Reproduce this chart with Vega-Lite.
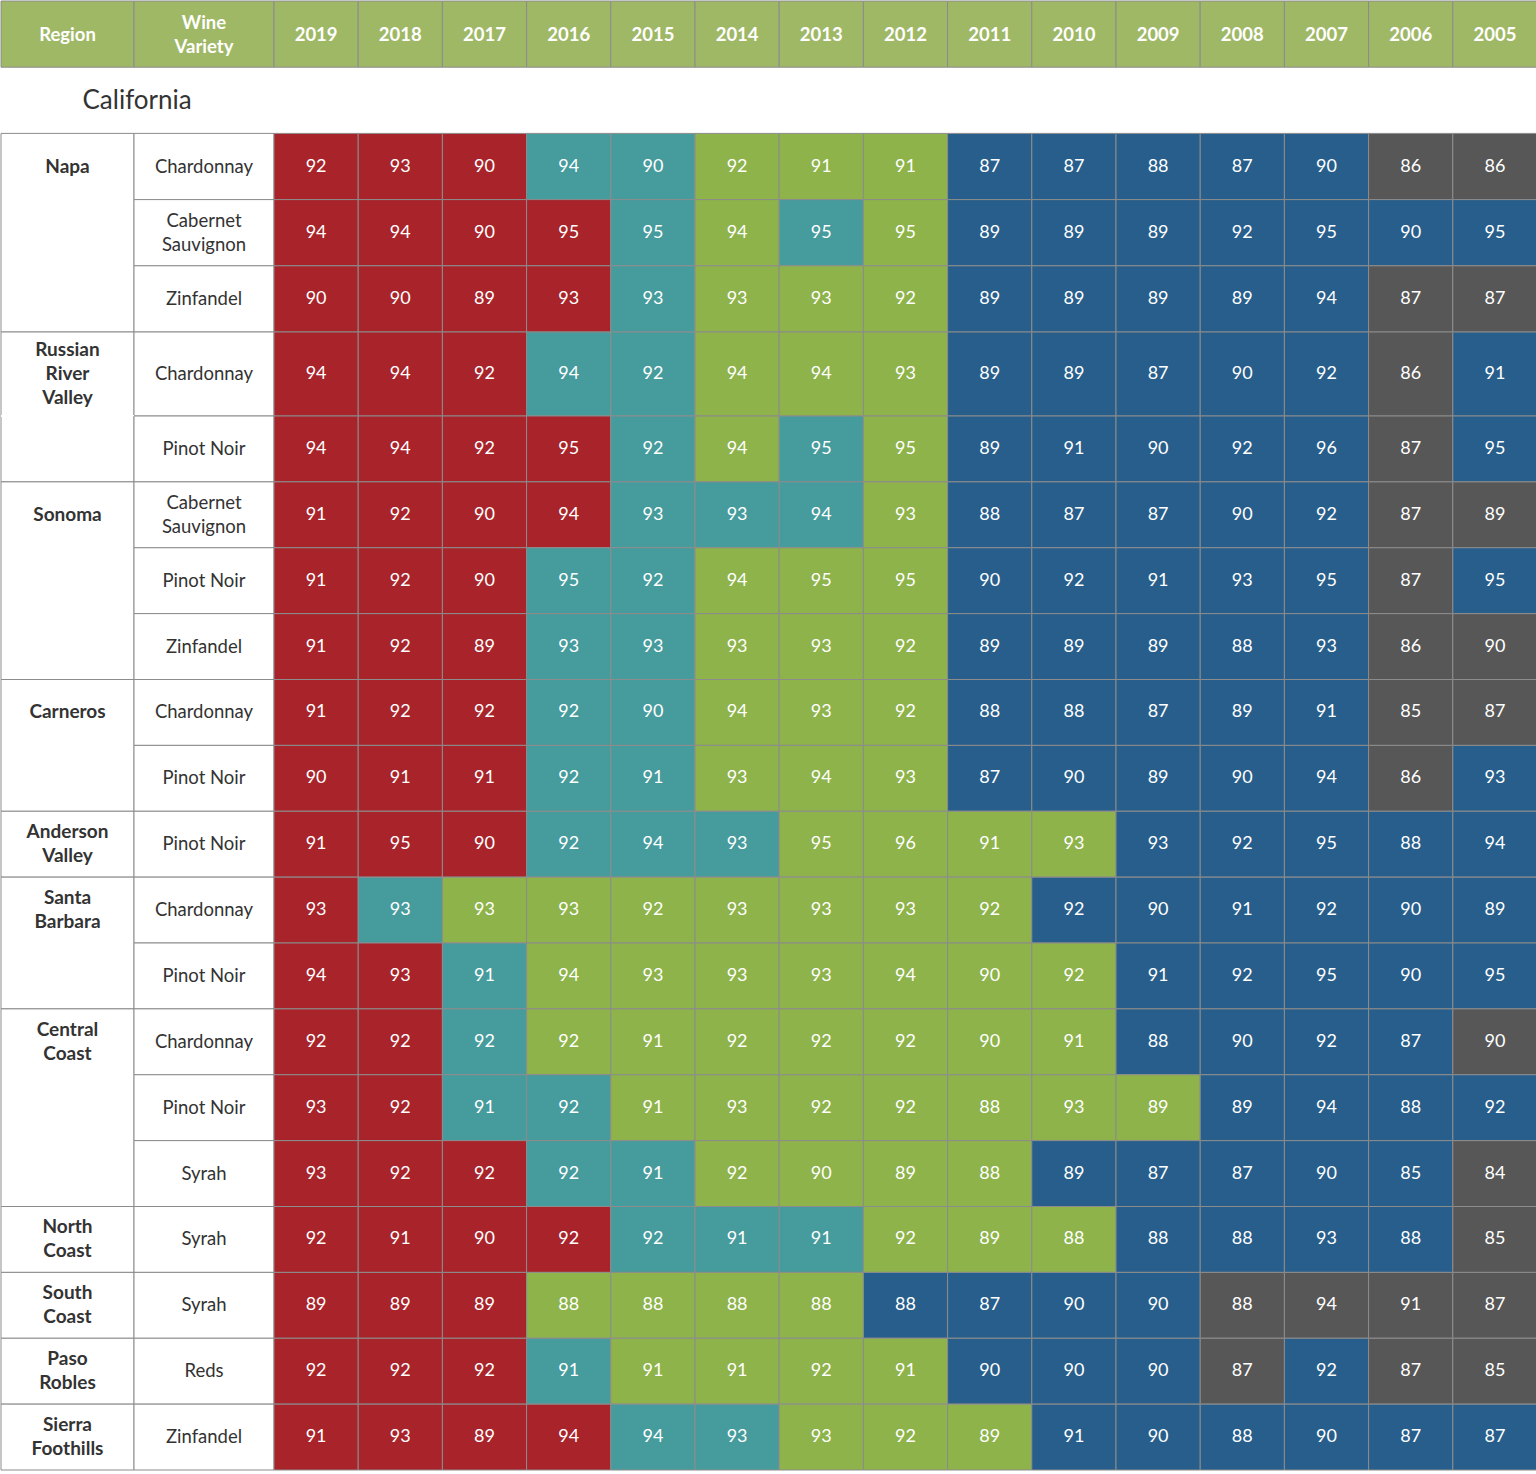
{
  "$schema": "https://vega.github.io/schema/vega-lite/v6.json",
  "background": "white",
  "padding": 0,
  "config": {"view": {"stroke": null}, "font": "Lato", "concat": {"spacing": 0}},
  "datasets": {
    "years": [
      {"r":"h","y":"2019"},{"r":"h","y":"2018"},{"r":"h","y":"2017"},{"r":"h","y":"2016"},{"r":"h","y":"2015"},
      {"r":"h","y":"2014"},{"r":"h","y":"2013"},{"r":"h","y":"2012"},{"r":"h","y":"2011"},{"r":"h","y":"2010"},
      {"r":"h","y":"2009"},{"r":"h","y":"2008"},{"r":"h","y":"2007"},{"r":"h","y":"2006"},{"r":"h","y":"2005"}
    ],
    "rows": [
      {"r":"r01","variety":"Chardonnay"},{"r":"r02","variety":"Cabernet\nSauvignon"},{"r":"r03","variety":"Zinfandel"},
      {"r":"r04","variety":"Chardonnay"},{"r":"r05","variety":"Pinot Noir"},
      {"r":"r06","variety":"Cabernet\nSauvignon"},{"r":"r07","variety":"Pinot Noir"},{"r":"r08","variety":"Zinfandel"},
      {"r":"r09","variety":"Chardonnay"},{"r":"r10","variety":"Pinot Noir"},
      {"r":"r11","variety":"Pinot Noir"},
      {"r":"r12","variety":"Chardonnay"},{"r":"r13","variety":"Pinot Noir"},
      {"r":"r14","variety":"Chardonnay"},{"r":"r15","variety":"Pinot Noir"},{"r":"r16","variety":"Syrah"},
      {"r":"r17","variety":"Syrah"},{"r":"r18","variety":"Syrah"},{"r":"r19","variety":"Reds"},{"r":"r20","variety":"Zinfandel"}
    ],
    "segments": [
      {"r":"r01","r2":"r03","label":"Napa"},
      {"r":"r04","r2":"r04","label":"Russian\nRiver\nValley"},
      {"r":"r05","r2":"r05","label":""},
      {"r":"r06","r2":"r08","label":"Sonoma"},
      {"r":"r09","r2":"r10","label":"Carneros"},
      {"r":"r11","r2":"r11","label":"Anderson\nValley"},
      {"r":"r12","r2":"r13","label":"Santa\nBarbara"},
      {"r":"r14","r2":"r16","label":"Central\nCoast"},
      {"r":"r17","r2":"r17","label":"North\nCoast"},
      {"r":"r18","r2":"r18","label":"South\nCoast"},
      {"r":"r19","r2":"r19","label":"Paso\nRobles"},
      {"r":"r20","r2":"r20","label":"Sierra\nFoothills"}
    ],
    "cells": [
      {"r":"r01","y":"2019","v":92,"s":"R"},{"r":"r01","y":"2018","v":93,"s":"R"},{"r":"r01","y":"2017","v":90,"s":"R"},{"r":"r01","y":"2016","v":94,"s":"T"},{"r":"r01","y":"2015","v":90,"s":"T"},{"r":"r01","y":"2014","v":92,"s":"G"},{"r":"r01","y":"2013","v":91,"s":"G"},{"r":"r01","y":"2012","v":91,"s":"G"},{"r":"r01","y":"2011","v":87,"s":"B"},{"r":"r01","y":"2010","v":87,"s":"B"},{"r":"r01","y":"2009","v":88,"s":"B"},{"r":"r01","y":"2008","v":87,"s":"B"},{"r":"r01","y":"2007","v":90,"s":"B"},{"r":"r01","y":"2006","v":86,"s":"K"},{"r":"r01","y":"2005","v":86,"s":"K"},
      {"r":"r02","y":"2019","v":94,"s":"R"},{"r":"r02","y":"2018","v":94,"s":"R"},{"r":"r02","y":"2017","v":90,"s":"R"},{"r":"r02","y":"2016","v":95,"s":"R"},{"r":"r02","y":"2015","v":95,"s":"T"},{"r":"r02","y":"2014","v":94,"s":"G"},{"r":"r02","y":"2013","v":95,"s":"T"},{"r":"r02","y":"2012","v":95,"s":"G"},{"r":"r02","y":"2011","v":89,"s":"B"},{"r":"r02","y":"2010","v":89,"s":"B"},{"r":"r02","y":"2009","v":89,"s":"B"},{"r":"r02","y":"2008","v":92,"s":"B"},{"r":"r02","y":"2007","v":95,"s":"B"},{"r":"r02","y":"2006","v":90,"s":"B"},{"r":"r02","y":"2005","v":95,"s":"B"},
      {"r":"r03","y":"2019","v":90,"s":"R"},{"r":"r03","y":"2018","v":90,"s":"R"},{"r":"r03","y":"2017","v":89,"s":"R"},{"r":"r03","y":"2016","v":93,"s":"R"},{"r":"r03","y":"2015","v":93,"s":"T"},{"r":"r03","y":"2014","v":93,"s":"G"},{"r":"r03","y":"2013","v":93,"s":"G"},{"r":"r03","y":"2012","v":92,"s":"G"},{"r":"r03","y":"2011","v":89,"s":"B"},{"r":"r03","y":"2010","v":89,"s":"B"},{"r":"r03","y":"2009","v":89,"s":"B"},{"r":"r03","y":"2008","v":89,"s":"B"},{"r":"r03","y":"2007","v":94,"s":"B"},{"r":"r03","y":"2006","v":87,"s":"K"},{"r":"r03","y":"2005","v":87,"s":"K"},
      {"r":"r04","y":"2019","v":94,"s":"R"},{"r":"r04","y":"2018","v":94,"s":"R"},{"r":"r04","y":"2017","v":92,"s":"R"},{"r":"r04","y":"2016","v":94,"s":"T"},{"r":"r04","y":"2015","v":92,"s":"T"},{"r":"r04","y":"2014","v":94,"s":"G"},{"r":"r04","y":"2013","v":94,"s":"G"},{"r":"r04","y":"2012","v":93,"s":"G"},{"r":"r04","y":"2011","v":89,"s":"B"},{"r":"r04","y":"2010","v":89,"s":"B"},{"r":"r04","y":"2009","v":87,"s":"B"},{"r":"r04","y":"2008","v":90,"s":"B"},{"r":"r04","y":"2007","v":92,"s":"B"},{"r":"r04","y":"2006","v":86,"s":"K"},{"r":"r04","y":"2005","v":91,"s":"B"},
      {"r":"r05","y":"2019","v":94,"s":"R"},{"r":"r05","y":"2018","v":94,"s":"R"},{"r":"r05","y":"2017","v":92,"s":"R"},{"r":"r05","y":"2016","v":95,"s":"R"},{"r":"r05","y":"2015","v":92,"s":"T"},{"r":"r05","y":"2014","v":94,"s":"G"},{"r":"r05","y":"2013","v":95,"s":"T"},{"r":"r05","y":"2012","v":95,"s":"G"},{"r":"r05","y":"2011","v":89,"s":"B"},{"r":"r05","y":"2010","v":91,"s":"B"},{"r":"r05","y":"2009","v":90,"s":"B"},{"r":"r05","y":"2008","v":92,"s":"B"},{"r":"r05","y":"2007","v":96,"s":"B"},{"r":"r05","y":"2006","v":87,"s":"K"},{"r":"r05","y":"2005","v":95,"s":"B"},
      {"r":"r06","y":"2019","v":91,"s":"R"},{"r":"r06","y":"2018","v":92,"s":"R"},{"r":"r06","y":"2017","v":90,"s":"R"},{"r":"r06","y":"2016","v":94,"s":"R"},{"r":"r06","y":"2015","v":93,"s":"T"},{"r":"r06","y":"2014","v":93,"s":"T"},{"r":"r06","y":"2013","v":94,"s":"T"},{"r":"r06","y":"2012","v":93,"s":"G"},{"r":"r06","y":"2011","v":88,"s":"B"},{"r":"r06","y":"2010","v":87,"s":"B"},{"r":"r06","y":"2009","v":87,"s":"B"},{"r":"r06","y":"2008","v":90,"s":"B"},{"r":"r06","y":"2007","v":92,"s":"B"},{"r":"r06","y":"2006","v":87,"s":"K"},{"r":"r06","y":"2005","v":89,"s":"K"},
      {"r":"r07","y":"2019","v":91,"s":"R"},{"r":"r07","y":"2018","v":92,"s":"R"},{"r":"r07","y":"2017","v":90,"s":"R"},{"r":"r07","y":"2016","v":95,"s":"T"},{"r":"r07","y":"2015","v":92,"s":"T"},{"r":"r07","y":"2014","v":94,"s":"G"},{"r":"r07","y":"2013","v":95,"s":"G"},{"r":"r07","y":"2012","v":95,"s":"G"},{"r":"r07","y":"2011","v":90,"s":"B"},{"r":"r07","y":"2010","v":92,"s":"B"},{"r":"r07","y":"2009","v":91,"s":"B"},{"r":"r07","y":"2008","v":93,"s":"B"},{"r":"r07","y":"2007","v":95,"s":"B"},{"r":"r07","y":"2006","v":87,"s":"K"},{"r":"r07","y":"2005","v":95,"s":"B"},
      {"r":"r08","y":"2019","v":91,"s":"R"},{"r":"r08","y":"2018","v":92,"s":"R"},{"r":"r08","y":"2017","v":89,"s":"R"},{"r":"r08","y":"2016","v":93,"s":"T"},{"r":"r08","y":"2015","v":93,"s":"T"},{"r":"r08","y":"2014","v":93,"s":"G"},{"r":"r08","y":"2013","v":93,"s":"G"},{"r":"r08","y":"2012","v":92,"s":"G"},{"r":"r08","y":"2011","v":89,"s":"B"},{"r":"r08","y":"2010","v":89,"s":"B"},{"r":"r08","y":"2009","v":89,"s":"B"},{"r":"r08","y":"2008","v":88,"s":"B"},{"r":"r08","y":"2007","v":93,"s":"B"},{"r":"r08","y":"2006","v":86,"s":"K"},{"r":"r08","y":"2005","v":90,"s":"K"},
      {"r":"r09","y":"2019","v":91,"s":"R"},{"r":"r09","y":"2018","v":92,"s":"R"},{"r":"r09","y":"2017","v":92,"s":"R"},{"r":"r09","y":"2016","v":92,"s":"T"},{"r":"r09","y":"2015","v":90,"s":"T"},{"r":"r09","y":"2014","v":94,"s":"G"},{"r":"r09","y":"2013","v":93,"s":"G"},{"r":"r09","y":"2012","v":92,"s":"G"},{"r":"r09","y":"2011","v":88,"s":"B"},{"r":"r09","y":"2010","v":88,"s":"B"},{"r":"r09","y":"2009","v":87,"s":"B"},{"r":"r09","y":"2008","v":89,"s":"B"},{"r":"r09","y":"2007","v":91,"s":"B"},{"r":"r09","y":"2006","v":85,"s":"K"},{"r":"r09","y":"2005","v":87,"s":"K"},
      {"r":"r10","y":"2019","v":90,"s":"R"},{"r":"r10","y":"2018","v":91,"s":"R"},{"r":"r10","y":"2017","v":91,"s":"R"},{"r":"r10","y":"2016","v":92,"s":"T"},{"r":"r10","y":"2015","v":91,"s":"T"},{"r":"r10","y":"2014","v":93,"s":"G"},{"r":"r10","y":"2013","v":94,"s":"G"},{"r":"r10","y":"2012","v":93,"s":"G"},{"r":"r10","y":"2011","v":87,"s":"B"},{"r":"r10","y":"2010","v":90,"s":"B"},{"r":"r10","y":"2009","v":89,"s":"B"},{"r":"r10","y":"2008","v":90,"s":"B"},{"r":"r10","y":"2007","v":94,"s":"B"},{"r":"r10","y":"2006","v":86,"s":"K"},{"r":"r10","y":"2005","v":93,"s":"B"},
      {"r":"r11","y":"2019","v":91,"s":"R"},{"r":"r11","y":"2018","v":95,"s":"R"},{"r":"r11","y":"2017","v":90,"s":"R"},{"r":"r11","y":"2016","v":92,"s":"T"},{"r":"r11","y":"2015","v":94,"s":"T"},{"r":"r11","y":"2014","v":93,"s":"T"},{"r":"r11","y":"2013","v":95,"s":"G"},{"r":"r11","y":"2012","v":96,"s":"G"},{"r":"r11","y":"2011","v":91,"s":"G"},{"r":"r11","y":"2010","v":93,"s":"G"},{"r":"r11","y":"2009","v":93,"s":"B"},{"r":"r11","y":"2008","v":92,"s":"B"},{"r":"r11","y":"2007","v":95,"s":"B"},{"r":"r11","y":"2006","v":88,"s":"B"},{"r":"r11","y":"2005","v":94,"s":"B"},
      {"r":"r12","y":"2019","v":93,"s":"R"},{"r":"r12","y":"2018","v":93,"s":"T"},{"r":"r12","y":"2017","v":93,"s":"G"},{"r":"r12","y":"2016","v":93,"s":"G"},{"r":"r12","y":"2015","v":92,"s":"G"},{"r":"r12","y":"2014","v":93,"s":"G"},{"r":"r12","y":"2013","v":93,"s":"G"},{"r":"r12","y":"2012","v":93,"s":"G"},{"r":"r12","y":"2011","v":92,"s":"G"},{"r":"r12","y":"2010","v":92,"s":"B"},{"r":"r12","y":"2009","v":90,"s":"B"},{"r":"r12","y":"2008","v":91,"s":"B"},{"r":"r12","y":"2007","v":92,"s":"B"},{"r":"r12","y":"2006","v":90,"s":"B"},{"r":"r12","y":"2005","v":89,"s":"B"},
      {"r":"r13","y":"2019","v":94,"s":"R"},{"r":"r13","y":"2018","v":93,"s":"R"},{"r":"r13","y":"2017","v":91,"s":"T"},{"r":"r13","y":"2016","v":94,"s":"G"},{"r":"r13","y":"2015","v":93,"s":"G"},{"r":"r13","y":"2014","v":93,"s":"G"},{"r":"r13","y":"2013","v":93,"s":"G"},{"r":"r13","y":"2012","v":94,"s":"G"},{"r":"r13","y":"2011","v":90,"s":"G"},{"r":"r13","y":"2010","v":92,"s":"G"},{"r":"r13","y":"2009","v":91,"s":"B"},{"r":"r13","y":"2008","v":92,"s":"B"},{"r":"r13","y":"2007","v":95,"s":"B"},{"r":"r13","y":"2006","v":90,"s":"B"},{"r":"r13","y":"2005","v":95,"s":"B"},
      {"r":"r14","y":"2019","v":92,"s":"R"},{"r":"r14","y":"2018","v":92,"s":"R"},{"r":"r14","y":"2017","v":92,"s":"T"},{"r":"r14","y":"2016","v":92,"s":"G"},{"r":"r14","y":"2015","v":91,"s":"G"},{"r":"r14","y":"2014","v":92,"s":"G"},{"r":"r14","y":"2013","v":92,"s":"G"},{"r":"r14","y":"2012","v":92,"s":"G"},{"r":"r14","y":"2011","v":90,"s":"G"},{"r":"r14","y":"2010","v":91,"s":"G"},{"r":"r14","y":"2009","v":88,"s":"B"},{"r":"r14","y":"2008","v":90,"s":"B"},{"r":"r14","y":"2007","v":92,"s":"B"},{"r":"r14","y":"2006","v":87,"s":"B"},{"r":"r14","y":"2005","v":90,"s":"K"},
      {"r":"r15","y":"2019","v":93,"s":"R"},{"r":"r15","y":"2018","v":92,"s":"R"},{"r":"r15","y":"2017","v":91,"s":"T"},{"r":"r15","y":"2016","v":92,"s":"T"},{"r":"r15","y":"2015","v":91,"s":"G"},{"r":"r15","y":"2014","v":93,"s":"G"},{"r":"r15","y":"2013","v":92,"s":"G"},{"r":"r15","y":"2012","v":92,"s":"G"},{"r":"r15","y":"2011","v":88,"s":"G"},{"r":"r15","y":"2010","v":93,"s":"G"},{"r":"r15","y":"2009","v":89,"s":"G"},{"r":"r15","y":"2008","v":89,"s":"B"},{"r":"r15","y":"2007","v":94,"s":"B"},{"r":"r15","y":"2006","v":88,"s":"B"},{"r":"r15","y":"2005","v":92,"s":"B"},
      {"r":"r16","y":"2019","v":93,"s":"R"},{"r":"r16","y":"2018","v":92,"s":"R"},{"r":"r16","y":"2017","v":92,"s":"R"},{"r":"r16","y":"2016","v":92,"s":"T"},{"r":"r16","y":"2015","v":91,"s":"T"},{"r":"r16","y":"2014","v":92,"s":"G"},{"r":"r16","y":"2013","v":90,"s":"G"},{"r":"r16","y":"2012","v":89,"s":"G"},{"r":"r16","y":"2011","v":88,"s":"G"},{"r":"r16","y":"2010","v":89,"s":"B"},{"r":"r16","y":"2009","v":87,"s":"B"},{"r":"r16","y":"2008","v":87,"s":"B"},{"r":"r16","y":"2007","v":90,"s":"B"},{"r":"r16","y":"2006","v":85,"s":"B"},{"r":"r16","y":"2005","v":84,"s":"K"},
      {"r":"r17","y":"2019","v":92,"s":"R"},{"r":"r17","y":"2018","v":91,"s":"R"},{"r":"r17","y":"2017","v":90,"s":"R"},{"r":"r17","y":"2016","v":92,"s":"R"},{"r":"r17","y":"2015","v":92,"s":"T"},{"r":"r17","y":"2014","v":91,"s":"T"},{"r":"r17","y":"2013","v":91,"s":"T"},{"r":"r17","y":"2012","v":92,"s":"G"},{"r":"r17","y":"2011","v":89,"s":"G"},{"r":"r17","y":"2010","v":88,"s":"G"},{"r":"r17","y":"2009","v":88,"s":"B"},{"r":"r17","y":"2008","v":88,"s":"B"},{"r":"r17","y":"2007","v":93,"s":"B"},{"r":"r17","y":"2006","v":88,"s":"B"},{"r":"r17","y":"2005","v":85,"s":"K"},
      {"r":"r18","y":"2019","v":89,"s":"R"},{"r":"r18","y":"2018","v":89,"s":"R"},{"r":"r18","y":"2017","v":89,"s":"R"},{"r":"r18","y":"2016","v":88,"s":"G"},{"r":"r18","y":"2015","v":88,"s":"G"},{"r":"r18","y":"2014","v":88,"s":"G"},{"r":"r18","y":"2013","v":88,"s":"G"},{"r":"r18","y":"2012","v":88,"s":"B"},{"r":"r18","y":"2011","v":87,"s":"B"},{"r":"r18","y":"2010","v":90,"s":"B"},{"r":"r18","y":"2009","v":90,"s":"B"},{"r":"r18","y":"2008","v":88,"s":"K"},{"r":"r18","y":"2007","v":94,"s":"K"},{"r":"r18","y":"2006","v":91,"s":"K"},{"r":"r18","y":"2005","v":87,"s":"K"},
      {"r":"r19","y":"2019","v":92,"s":"R"},{"r":"r19","y":"2018","v":92,"s":"R"},{"r":"r19","y":"2017","v":92,"s":"R"},{"r":"r19","y":"2016","v":91,"s":"T"},{"r":"r19","y":"2015","v":91,"s":"G"},{"r":"r19","y":"2014","v":91,"s":"G"},{"r":"r19","y":"2013","v":92,"s":"G"},{"r":"r19","y":"2012","v":91,"s":"G"},{"r":"r19","y":"2011","v":90,"s":"B"},{"r":"r19","y":"2010","v":90,"s":"B"},{"r":"r19","y":"2009","v":90,"s":"B"},{"r":"r19","y":"2008","v":87,"s":"K"},{"r":"r19","y":"2007","v":92,"s":"B"},{"r":"r19","y":"2006","v":87,"s":"K"},{"r":"r19","y":"2005","v":85,"s":"K"},
      {"r":"r20","y":"2019","v":91,"s":"R"},{"r":"r20","y":"2018","v":93,"s":"R"},{"r":"r20","y":"2017","v":89,"s":"R"},{"r":"r20","y":"2016","v":94,"s":"R"},{"r":"r20","y":"2015","v":94,"s":"T"},{"r":"r20","y":"2014","v":93,"s":"T"},{"r":"r20","y":"2013","v":93,"s":"G"},{"r":"r20","y":"2012","v":92,"s":"G"},{"r":"r20","y":"2011","v":89,"s":"G"},{"r":"r20","y":"2010","v":91,"s":"B"},{"r":"r20","y":"2009","v":90,"s":"B"},{"r":"r20","y":"2008","v":88,"s":"B"},{"r":"r20","y":"2007","v":90,"s":"B"},{"r":"r20","y":"2006","v":87,"s":"B"},{"r":"r20","y":"2005","v":87,"s":"B"}
    ]
  },
  "columns": 3,
  "align": "each",
  "bounds": "flush",
  "spacing": 0,
  "concat": [
    {
      "width": 133, "height": 331,
      "encoding": {"y": {"field": "r", "type": "ordinal", "axis": null, "scale": {"domain": ["h","ca","r01","r02","r03"], "paddingInner": 0, "paddingOuter": 0}}},
      "layer": [
        {"data": {"values": [{"r":"h","label":"Region"}]}, "mark": {"type": "rect", "fill": "#9fb866", "stroke": "#8c8c8c", "strokeWidth": 1}, "encoding": {}},
        {"data": {"values": [{"r":"h","label":"Region"}]}, "mark": {"type": "text", "fill": "white", "fontSize": 18.5, "fontWeight": "bold", "font": "Lato", "dy": 1}, "encoding": {"text": {"field": "label"}}},
        {"data": {"name": "segments"}, "transform": [{"filter": {"field": "r", "oneOf": ["r01","r02","r03"]}}], "mark": {"type": "rect", "fill": "white", "stroke": "#8c8c8c", "strokeWidth": 1},
         "encoding": {"y": {"field": "r", "type": "ordinal", "axis": null, "bandPosition": 0, "scale": {"domain": ["h","ca","r01","r02","r03"], "paddingInner": 0, "paddingOuter": 0}}, "y2": {"field": "r2", "bandPosition": 1}}},
        {"data": {"name": "segments"}, "transform": [{"filter": {"field": "r", "oneOf": ["r01","r02","r03"]}}], "mark": {"type": "text", "fill": "#333333", "fontSize": 19, "fontWeight": "bold", "font": "Lato"}, "encoding": {"text": {"field": "label"}}},
        {"data": {"values": [{"r":"ca","label":"California"}]}, "mark": {"type": "text", "fill": "#333333", "fontSize": 26, "font": "Lato", "align": "left", "dx": 15, "dy": 1}, "encoding": {"text": {"field": "label"}}}
      ]
    },
    {
      "width": 140, "height": 331,
      "encoding": {"y": {"field": "r", "type": "ordinal", "axis": null, "scale": {"domain": ["h","ca","r01","r02","r03"], "paddingInner": 0, "paddingOuter": 0}}},
      "layer": [
        {"data": {"values": [{"r":"h","label":"Wine\nVariety"}]}, "mark": {"type": "rect", "fill": "#9fb866", "stroke": "#8c8c8c", "strokeWidth": 1}, "encoding": {}},
        {"data": {"values": [{"r":"h","label":"Wine\nVariety"}]}, "mark": {"type": "text", "fill": "white", "fontSize": 18.5, "fontWeight": "bold", "font": "Lato", "lineBreak": "\n", "lineHeight": 24, "dy": -11}, "encoding": {"text": {"field": "label"}}},
        {"data": {"name": "rows"}, "transform": [{"filter": {"field": "r", "oneOf": ["r01","r02","r03"]}}], "mark": {"type": "rect", "fill": "white", "stroke": "#8c8c8c", "strokeWidth": 1}, "encoding": {}},
        {"data": {"name": "rows"}, "transform": [{"filter": {"field": "r", "oneOf": ["r01","r03"]}}], "mark": {"type": "text", "fill": "#333333", "fontSize": 18.5, "font": "Lato"}, "encoding": {"text": {"field": "variety"}}},
        {"data": {"name": "rows"}, "transform": [{"filter": {"field": "r", "oneOf": ["r02"]}}], "mark": {"type": "text", "fill": "#333333", "fontSize": 18.5, "font": "Lato", "lineBreak": "\n", "lineHeight": 24, "dy": -12}, "encoding": {"text": {"field": "variety"}}}
      ]
    },
    {
      "width": 1263, "height": 331,
      "encoding": {
        "y": {"field": "r", "type": "ordinal", "axis": null, "scale": {"domain": ["h","ca","r01","r02","r03"], "paddingInner": 0, "paddingOuter": 0}},
        "x": {"field": "y", "type": "ordinal", "axis": null, "scale": {"domain": ["2019","2018","2017","2016","2015","2014","2013","2012","2011","2010","2009","2008","2007","2006","2005"], "paddingInner": 0, "paddingOuter": 0}}
      },
      "layer": [
        {"data": {"name": "years"}, "mark": {"type": "rect", "fill": "#9fb866", "stroke": "#8c8c8c", "strokeWidth": 1}, "encoding": {}},
        {"data": {"name": "years"}, "mark": {"type": "text", "fill": "white", "fontSize": 18.5, "fontWeight": "bold", "font": "Lato", "dy": 1}, "encoding": {"text": {"field": "y"}}},
        {"data": {"name": "cells"}, "transform": [{"filter": {"field": "r", "oneOf": ["r01","r02","r03"]}}], "mark": {"type": "rect", "stroke": "#8c8c8c", "strokeWidth": 1},
         "encoding": {"fill": {"field": "s", "type": "nominal", "legend": null, "scale": {"domain": ["R","T","G","B","K"], "range": ["#a8232a","#469b9d","#8db34a","#275e8b","#575757"]}}}},
        {"data": {"name": "cells"}, "transform": [{"filter": {"field": "r", "oneOf": ["r01","r02","r03"]}}], "mark": {"type": "text", "fill": "white", "fontSize": 18, "font": "Lato"}, "encoding": {"text": {"field": "v", "type": "quantitative"}}}
      ]
    },
    {
      "width": 133, "height": 84,
      "encoding": {"y": {"field": "r", "type": "ordinal", "axis": null, "scale": {"domain": ["r04"], "paddingInner": 0, "paddingOuter": 0}}},
      "layer": [
        {"data": {"name": "segments"}, "transform": [{"filter": {"field": "r", "equal": "r04"}}], "mark": {"type": "rect", "fill": "white", "stroke": "#8c8c8c", "strokeWidth": 1}, "encoding": {}},
        {"data": {"name": "segments"}, "transform": [{"filter": {"field": "r", "equal": "r04"}}], "mark": {"type": "rule", "stroke": "white", "strokeWidth": 2},
         "encoding": {"y": {"field": "r", "type": "ordinal", "axis": null, "bandPosition": 1, "scale": {"domain": ["r04"], "paddingInner": 0, "paddingOuter": 0}}}},
        {"data": {"name": "segments"}, "transform": [{"filter": {"field": "r", "equal": "r04"}}], "mark": {"type": "text", "fill": "#333333", "fontSize": 19, "fontWeight": "bold", "font": "Lato", "lineBreak": "\n", "lineHeight": 24, "dy": -24}, "encoding": {"text": {"field": "label"}}}
      ]
    },
    {
      "width": 140, "height": 84,
      "encoding": {"y": {"field": "r", "type": "ordinal", "axis": null, "scale": {"domain": ["r04"], "paddingInner": 0, "paddingOuter": 0}}},
      "layer": [
        {"data": {"name": "rows"}, "transform": [{"filter": {"field": "r", "equal": "r04"}}], "mark": {"type": "rect", "fill": "white", "stroke": "#8c8c8c", "strokeWidth": 1}, "encoding": {}},
        {"data": {"name": "rows"}, "transform": [{"filter": {"field": "r", "equal": "r04"}}], "mark": {"type": "text", "fill": "#333333", "fontSize": 18.5, "font": "Lato"}, "encoding": {"text": {"field": "variety"}}}
      ]
    },
    {
      "width": 1263, "height": 84,
      "encoding": {
        "y": {"field": "r", "type": "ordinal", "axis": null, "scale": {"domain": ["r04"], "paddingInner": 0, "paddingOuter": 0}},
        "x": {"field": "y", "type": "ordinal", "axis": null, "scale": {"domain": ["2019","2018","2017","2016","2015","2014","2013","2012","2011","2010","2009","2008","2007","2006","2005"], "paddingInner": 0, "paddingOuter": 0}}
      },
      "layer": [
        {"data": {"name": "cells"}, "transform": [{"filter": {"field": "r", "equal": "r04"}}], "mark": {"type": "rect", "stroke": "#8c8c8c", "strokeWidth": 1},
         "encoding": {"fill": {"field": "s", "type": "nominal", "legend": null, "scale": {"domain": ["R","T","G","B","K"], "range": ["#a8232a","#469b9d","#8db34a","#275e8b","#575757"]}}}},
        {"data": {"name": "cells"}, "transform": [{"filter": {"field": "r", "equal": "r04"}}], "mark": {"type": "text", "fill": "white", "fontSize": 18, "font": "Lato"}, "encoding": {"text": {"field": "v", "type": "quantitative"}}}
      ]
    },
    {
      "width": 133, "height": 1054,
      "encoding": {"y": {"field": "r", "type": "ordinal", "axis": null, "scale": {"domain": ["r05","r06","r07","r08","r09","r10","r11","r12","r13","r14","r15","r16","r17","r18","r19","r20"], "paddingInner": 0, "paddingOuter": 0}}},
      "layer": [
        {"data": {"name": "segments"}, "transform": [{"filter": {"field": "r", "oneOf": ["r05","r06","r09","r11","r12","r14","r17","r18","r19","r20"]}}], "mark": {"type": "rect", "fill": "white", "stroke": "#8c8c8c", "strokeWidth": 1},
         "encoding": {"y": {"field": "r", "type": "ordinal", "axis": null, "bandPosition": 0, "scale": {"domain": ["r05","r06","r07","r08","r09","r10","r11","r12","r13","r14","r15","r16","r17","r18","r19","r20"], "paddingInner": 0, "paddingOuter": 0}}, "y2": {"field": "r2", "bandPosition": 1}}},
        {"data": {"name": "segments"}, "transform": [{"filter": {"field": "r", "equal": "r05"}}], "mark": {"type": "rule", "stroke": "white", "strokeWidth": 2},
         "encoding": {"y": {"field": "r", "type": "ordinal", "axis": null, "bandPosition": 0, "scale": {"domain": ["r05","r06","r07","r08","r09","r10","r11","r12","r13","r14","r15","r16","r17","r18","r19","r20"], "paddingInner": 0, "paddingOuter": 0}}}},
        {"data": {"name": "segments"}, "transform": [{"filter": {"field": "r", "oneOf": ["r06","r09"]}}], "mark": {"type": "text", "fill": "#333333", "fontSize": 19, "fontWeight": "bold", "font": "Lato"}, "encoding": {"text": {"field": "label"}}},
        {"data": {"name": "segments"}, "transform": [{"filter": {"field": "r", "oneOf": ["r11","r12","r14","r17","r18","r19","r20"]}}], "mark": {"type": "text", "fill": "#333333", "fontSize": 19, "fontWeight": "bold", "font": "Lato", "lineBreak": "\n", "lineHeight": 24, "dy": -12}, "encoding": {"text": {"field": "label"}}}
      ]
    },
    {
      "width": 140, "height": 1054,
      "encoding": {"y": {"field": "r", "type": "ordinal", "axis": null, "scale": {"domain": ["r05","r06","r07","r08","r09","r10","r11","r12","r13","r14","r15","r16","r17","r18","r19","r20"], "paddingInner": 0, "paddingOuter": 0}}},
      "layer": [
        {"data": {"name": "rows"}, "transform": [{"filter": {"field": "r", "oneOf": ["r05","r06","r07","r08","r09","r10","r11","r12","r13","r14","r15","r16","r17","r18","r19","r20"]}}], "mark": {"type": "rect", "fill": "white", "stroke": "#8c8c8c", "strokeWidth": 1}, "encoding": {}},
        {"data": {"name": "rows"}, "transform": [{"filter": {"field": "r", "oneOf": ["r05","r07","r08","r09","r10","r11","r12","r13","r14","r15","r16","r17","r18","r19","r20"]}}], "mark": {"type": "text", "fill": "#333333", "fontSize": 18.5, "font": "Lato"}, "encoding": {"text": {"field": "variety"}}},
        {"data": {"name": "rows"}, "transform": [{"filter": {"field": "r", "oneOf": ["r06"]}}], "mark": {"type": "text", "fill": "#333333", "fontSize": 18.5, "font": "Lato", "lineBreak": "\n", "lineHeight": 24, "dy": -12}, "encoding": {"text": {"field": "variety"}}}
      ]
    },
    {
      "width": 1263, "height": 1054,
      "encoding": {
        "y": {"field": "r", "type": "ordinal", "axis": null, "scale": {"domain": ["r05","r06","r07","r08","r09","r10","r11","r12","r13","r14","r15","r16","r17","r18","r19","r20"], "paddingInner": 0, "paddingOuter": 0}},
        "x": {"field": "y", "type": "ordinal", "axis": null, "scale": {"domain": ["2019","2018","2017","2016","2015","2014","2013","2012","2011","2010","2009","2008","2007","2006","2005"], "paddingInner": 0, "paddingOuter": 0}}
      },
      "layer": [
        {"data": {"name": "cells"}, "transform": [{"filter": {"field": "r", "oneOf": ["r05","r06","r07","r08","r09","r10","r11","r12","r13","r14","r15","r16","r17","r18","r19","r20"]}}], "mark": {"type": "rect", "stroke": "#8c8c8c", "strokeWidth": 1},
         "encoding": {"fill": {"field": "s", "type": "nominal", "legend": null, "scale": {"domain": ["R","T","G","B","K"], "range": ["#a8232a","#469b9d","#8db34a","#275e8b","#575757"]}}}},
        {"data": {"name": "cells"}, "transform": [{"filter": {"field": "r", "oneOf": ["r05","r06","r07","r08","r09","r10","r11","r12","r13","r14","r15","r16","r17","r18","r19","r20"]}}], "mark": {"type": "text", "fill": "white", "fontSize": 18, "font": "Lato"}, "encoding": {"text": {"field": "v", "type": "quantitative"}}}
      ]
    }
  ]
}
